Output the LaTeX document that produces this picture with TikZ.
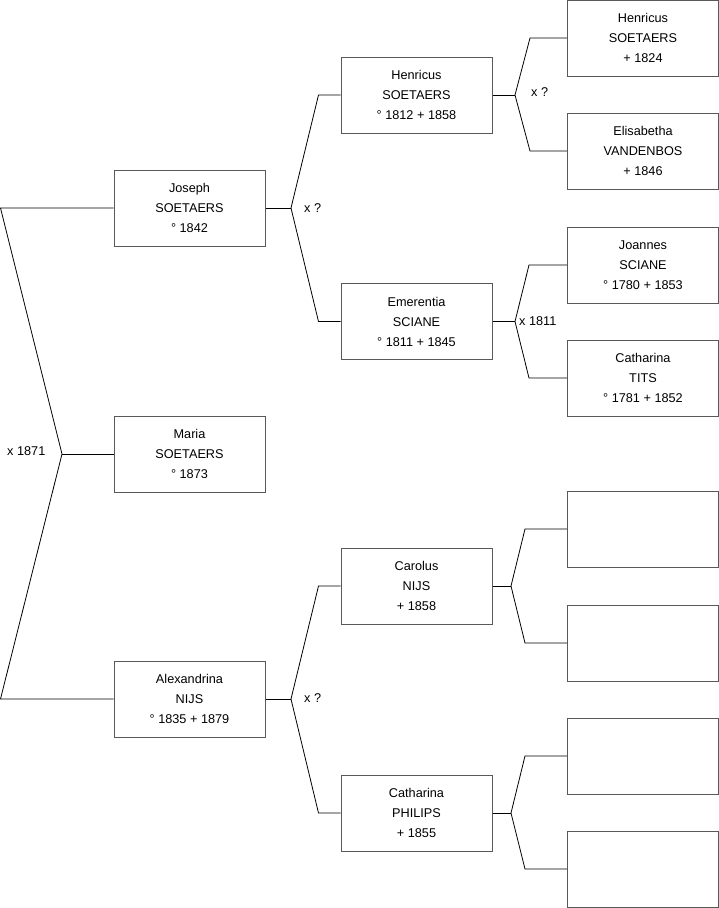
\documentclass[tikz,border=0pt]{standalone}
\usepackage{fontspec}
\setmainfont{Liberation Sans}
\usetikzlibrary{positioning,calc}

\tikzset{
  person/.style={draw=black!65,line width=1pt,minimum width=151pt,minimum height=76pt,
    inner sep=0pt,align=center,font=\fontsize{12.7}{20}\selectfont},
  marr/.style={inner sep=0pt,font=\fontsize{12.7}{14}\selectfont},
  link/.style={line width=0.8pt}
}

\begin{document}
\begin{tikzpicture}[x=1pt,y=-1pt]
 \useasboundingbox (0,0) rectangle (719,908);

 % generation 1
 \node[person] (joseph) at (189.5,208) {Joseph\\SOETAERS\\° 1842};
 \node[person] (maria) at (189.5,454) {Maria\\SOETAERS\\° 1873};
 \node[person] (alexandrina) at (189.5,699) {Alexandrina\\NIJS\\° 1835 + 1879};

 % generation 2
 \node[person] (henricus) at (416.5,95) {Henricus\\SOETAERS\\° 1812 + 1858};
 \node[person] (emerentia) at (416.5,321.5) {Emerentia\\SCIANE\\° 1811 + 1845};
 \node[person] (carolus) at (416.5,586) {Carolus\\NIJS\\+ 1858};
 \node[person] (catharinap) at (416.5,813) {Catharina\\PHILIPS\\+ 1855};

 % generation 3
 \node[person] (henricusf) at (643,38) {Henricus\\SOETAERS\\+ 1824};
 \node[person] (elisabetha) at (643,151) {Elisabetha\\VANDENBOS\\+ 1846};
 \node[person] (joannes) at (643,265) {Joannes\\SCIANE\\° 1780 + 1853};
 \node[person] (catharinat) at (643,378) {Catharina\\TITS\\° 1781 + 1852};
 \node[person] (empty1) at (643,529) {};
 \node[person] (empty2) at (643,643) {};
 \node[person] (empty3) at (643,756) {};
 \node[person] (empty4) at (643,869) {};

 % fork points
 \coordinate (j0) at (0.5,208);
 \coordinate (a0) at (0.5,699);
 \coordinate (m0) at (62,454);
 \coordinate (jf) at (291,208);
 \coordinate (af) at (291,699);
 \coordinate (hf) at (515,95);
 \coordinate (ef) at (515,321.5);
 \coordinate (cf) at (511,586);
 \coordinate (pf) at (511,813);

 % marriages
 \node[marr,anchor=west] (x1871) at (7,451) {x 1871};
 \node[marr,anchor=west] (xjos) at (304,208) {x ?};
 \node[marr,anchor=west] (xalx) at (304,698) {x ?};
 \node[marr,anchor=west] (xhen) at (531,92) {x ?};
 \node[marr,anchor=west] (x1811) at (519,321) {x 1811};

 % links
 \draw[link] (joseph.west) -- (j0) -- (m0) -- (a0) -- (alexandrina.west);
 \draw[link] (m0) -- (maria.west);

 \draw[link] (joseph.east) -- (jf);
 \draw[link] (jf) -- ([xshift=-22pt]henricus.west) -- (henricus.west);
 \draw[link] (jf) -- ([xshift=-22pt]emerentia.west) -- (emerentia.west);
 \draw[link] (alexandrina.east) -- (af);
 \draw[link] (af) -- ([xshift=-22pt]carolus.west) -- (carolus.west);
 \draw[link] (af) -- ([xshift=-22pt]catharinap.west) -- (catharinap.west);

 \draw[link] (henricus.east) -- (hf);
 \draw[link] (hf) -- ([xshift=-37pt]henricusf.west) -- (henricusf.west);
 \draw[link] (hf) -- ([xshift=-37pt]elisabetha.west) -- (elisabetha.west);
 \draw[link] (emerentia.east) -- (ef);
 \draw[link] (ef) -- ([xshift=-38pt]joannes.west) -- (joannes.west);
 \draw[link] (ef) -- ([xshift=-38pt]catharinat.west) -- (catharinat.west);

 \draw[link] (carolus.east) -- (cf);
 \draw[link] (cf) -- ([xshift=-42pt]empty1.west) -- (empty1.west);
 \draw[link] (cf) -- ([xshift=-42pt]empty2.west) -- (empty2.west);
 \draw[link] (catharinap.east) -- (pf);
 \draw[link] (pf) -- ([xshift=-42pt]empty3.west) -- (empty3.west);
 \draw[link] (pf) -- ([xshift=-42pt]empty4.west) -- (empty4.west);
\end{tikzpicture}
\end{document}
